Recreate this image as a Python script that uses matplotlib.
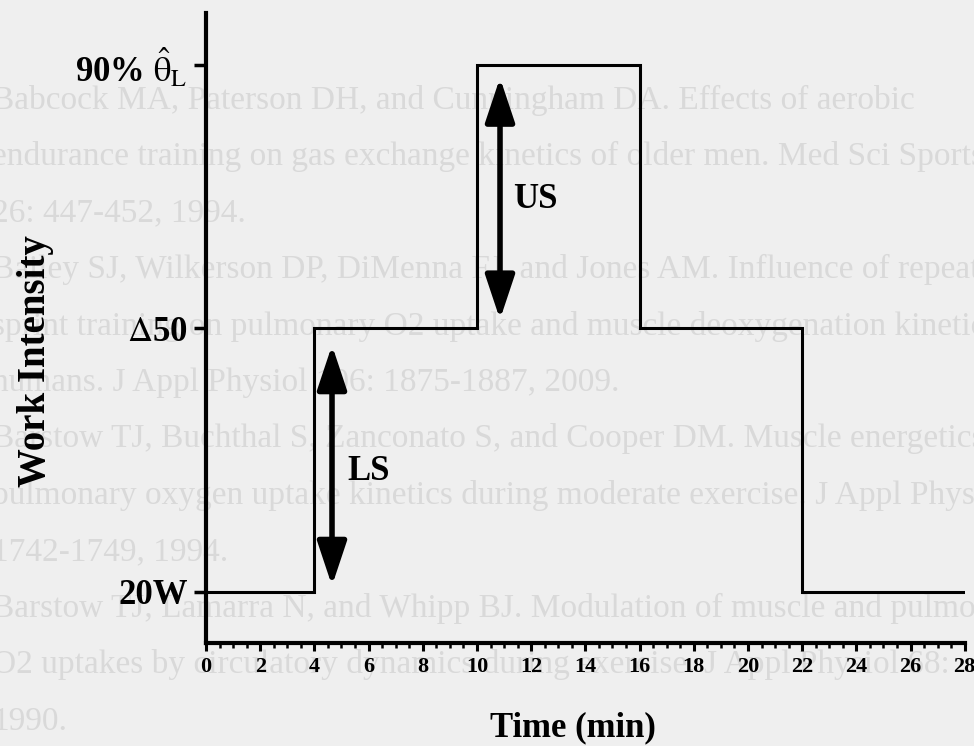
import matplotlib
matplotlib.use("Agg")
import matplotlib.pyplot as plt
from matplotlib.ticker import MultipleLocator

plt.rcParams['font.family'] = ['Liberation Serif', 'DejaVu Serif']
plt.rcParams['mathtext.fontset'] = 'stix'

# exercise protocol: stage boundaries (min) and work level for each stage
stage_edges = [0, 4, 10, 16, 22, 28]
stage_levels = [9, 55, 101, 55, 9]

# y levels and their names
level_ticks = [9, 55, 101]
level_labels = ['20W', r'$\Delta$50', r'90% $\hat{\mathrm{\theta}}_{\mathrm{L}}$']

# double arrows for lower (LS) and upper (US) step: x, y bottom, y top
ls_arrow = (4.65, 10, 52)
us_arrow = (10.85, 56.5, 98.7)

# faint reference list showing through from the other side of the page
ref_lines = [
    "Babcock MA, Paterson DH, and Cunningham DA. Effects of aerobic",
    "endurance training on gas exchange kinetics of older men. Med Sci Sports",
    "26: 447-452, 1994.",
    "Bailey SJ, Wilkerson DP, DiMenna FJ, and Jones AM. Influence of repeated",
    "sprint training on pulmonary O2 uptake and muscle deoxygenation kinetics",
    "humans. J Appl Physiol 106: 1875-1887, 2009.",
    "Barstow TJ, Buchthal S, Zanconato S, and Cooper DM. Muscle energetics",
    "pulmonary oxygen uptake kinetics during moderate exercise. J Appl Physiol",
    "1742-1749, 1994.",
    "Barstow TJ, Lamarra N, and Whipp BJ. Modulation of muscle and pulmonary",
    "O2 uptakes by circulatory dynamics during exercise. J Appl Physiol 68:",
    "1990.",
]

fig = plt.figure(figsize=(9.74, 7.46), dpi=100, facecolor='#efefef')

for i, line in enumerate(ref_lines):
    y = 1 - (100 + 56.5 * i) / 746
    fig.text(-0.008, y, line, fontsize=24, color='#d9d9d9', va='center',
             ha='left', zorder=-5)

ax = fig.add_axes([0.2115, 0.138, 0.779, 0.8445])
ax.patch.set_visible(False)

levels = stage_levels + [stage_levels[-1]]
ax.step(stage_edges, levels, where='post', color='black', lw=2.2,
        solid_joinstyle='miter')

for x, y0, y1 in [ls_arrow, us_arrow]:
    ax.annotate('', xy=(x, y1), xytext=(x, y0),
                arrowprops=dict(arrowstyle='<|-|>,head_length=1.35,head_width=0.45',
                                mutation_scale=20, lw=4, color='black',
                                shrinkA=0, shrinkB=0))

ax.text(5.2, 29.9, 'LS', fontsize=25, fontweight='bold', va='center', ha='left')
ax.text(11.33, 77.4, 'US', fontsize=25, fontweight='bold', va='center', ha='left')

ax.set_xlim(0, 28)
ax.set_ylim(0, 110)

ax.spines['top'].set_visible(False)
ax.spines['right'].set_visible(False)
ax.spines['left'].set_linewidth(3)
ax.spines['bottom'].set_linewidth(3)

ax.set_yticks(level_ticks)
ax.set_yticklabels(level_labels, fontsize=25, fontweight='bold')
ax.tick_params(axis='y', length=9, width=2.5, pad=4)

ax.xaxis.set_major_locator(MultipleLocator(2))
ax.xaxis.set_minor_locator(MultipleLocator(0.5))
ax.tick_params(axis='x', which='major', length=6, width=2.2, pad=4, labelsize=16)
ax.tick_params(axis='x', which='minor', length=3.5, width=1.8)
for lbl in ax.get_xticklabels():
    lbl.set_fontweight('bold')

ax.text(-0.225, 0.447, 'Work Intensity', transform=ax.transAxes, fontsize=28,
        fontweight='bold', rotation=90, ha='center', va='center')
ax.text(0.483, -0.135, 'Time (min)', transform=ax.transAxes, fontsize=25,
        fontweight='bold', ha='center', va='center')

fig.savefig('out.png', dpi=100, facecolor=fig.get_facecolor())
